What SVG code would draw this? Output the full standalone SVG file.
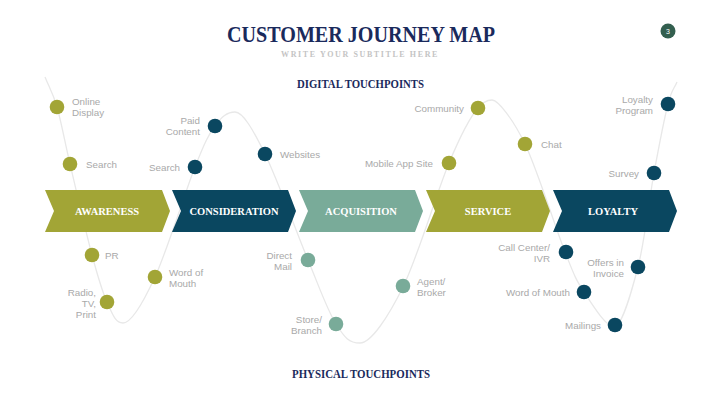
<svg xmlns="http://www.w3.org/2000/svg" width="721" height="405" viewBox="0 0 721 405">
<style>
.title{font-family:"Liberation Serif",serif;font-weight:bold;fill:#1a2a5c}
.sub{font-family:"Liberation Serif",serif;font-weight:bold;fill:#c4c4c4;font-size:8px;letter-spacing:1.6px}
.stage{font-family:"Liberation Serif",serif;font-weight:bold;fill:#ffffff;font-size:10.5px;text-anchor:middle}
.lbl{font-family:"Liberation Sans",Arial,sans-serif;font-size:9.8px;fill:#a9a9a9}
.r{text-anchor:end}
.olive{fill:#a2a536}
.navy{fill:#0a4760}
.sage{fill:#79ab99}
.curve{fill:none;stroke:#e8e8e8;stroke-width:1.3}
</style>
<rect width="721" height="405" fill="#ffffff"/>
<text class="title" x="361" y="42" font-size="23" text-anchor="middle" textLength="268" lengthAdjust="spacingAndGlyphs">CUSTOMER JOURNEY MAP</text>
<text class="sub" x="360" y="57" text-anchor="middle">WRITE YOUR SUBTITLE HERE</text>
<g id="page-number">
<circle cx="668" cy="31" r="7.5" fill="#335f4f"/>
<text x="668" y="33.5" font-family="Liberation Sans,sans-serif" font-size="7" fill="#ffffff" text-anchor="middle">3</text>
</g>
<text class="title" x="360.5" y="88" font-size="12" text-anchor="middle" textLength="127" lengthAdjust="spacingAndGlyphs">DIGITAL TOUCHPOINTS</text>
<text class="title" x="361" y="378" font-size="12" text-anchor="middle" textLength="138" lengthAdjust="spacingAndGlyphs">PHYSICAL TOUCHPOINTS</text>
<g id="connectors">
<path class="curve" d="M45,77 C49,87 52.8,92.5 57,107 C61.2,121.5 64.2,139.3 70,164 C75.8,188.7 85.8,232 92,255 C98.2,278 101.8,290.7 107,302 C112.2,313.3 115,323 123,323 C131,323 143,303 155,277 C167,251 185,192.2 195,167 C205,141.8 208.3,135.2 215,126 C221.7,116.8 227,112 235,112 C243,112 252.8,129.3 265,154 C277.2,178.7 296.2,231.7 308,260 C319.8,288.3 327.3,310.2 336,324 C344.7,337.8 349,343 360,343 C371,343 388.2,317 403,287 C417.8,257 436.5,192.8 449,163 C461.5,133.2 471,116 478,108 C483,103 486,100 492,100 C498,100 512.8,118.8 525,144 C537.2,169.2 555.2,227.3 565,252 C574.8,276.7 575.8,279.5 584,292 C592.2,304.5 606,327 614,327 C622,327 631.3,292.7 638,267 C644.7,241.3 649,200.2 654,173 C659,145.8 664.2,119.2 668,104 C671.8,88.8 674,89.3 677,82"/>
</g>
<g id="stage-awareness">
<path class="olive" d="M45,190 L162,190 L170,211 L162,232 L45,232 L54,211 Z"/>
<text class="stage" x="107" y="215">AWARENESS</text>
</g>
<g id="stage-consideration">
<path class="navy" d="M172,190 L288,190 L296,211 L288,232 L172,232 L181,211 Z"/>
<text class="stage" x="234" y="215">CONSIDERATION</text>
</g>
<g id="stage-acquisition">
<path class="sage" d="M299,190 L415,190 L423,211 L415,232 L299,232 L308,211 Z"/>
<text class="stage" x="361" y="215">ACQUISITION</text>
</g>
<g id="stage-service">
<path class="olive" d="M426,190 L542,190 L550,211 L542,232 L426,232 L435,211 Z"/>
<text class="stage" x="488" y="215">SERVICE</text>
</g>
<g id="stage-loyalty">
<path class="navy" d="M553,190 L669,190 L677,211 L669,232 L553,232 L562,211 Z"/>
<text class="stage" x="613" y="215">LOYALTY</text>
</g>
<g id="tp-online-display"><circle class="olive" cx="57" cy="107" r="7.3"/><text class="lbl" y="105"><tspan x="72">Online</tspan><tspan x="72" dy="11">Display</tspan></text></g>
<g id="tp-search-1"><circle class="olive" cx="70" cy="164" r="7.3"/><text class="lbl" x="86" y="167.5">Search</text></g>
<g id="tp-paid-content"><circle class="navy" cx="215" cy="126" r="7.3"/><text class="lbl r" y="124"><tspan x="200">Paid</tspan><tspan x="200" dy="11">Content</tspan></text></g>
<g id="tp-search-2"><circle class="navy" cx="195" cy="167" r="7.3"/><text class="lbl r" x="180" y="170.5">Search</text></g>
<g id="tp-websites"><circle class="navy" cx="265" cy="154" r="7.3"/><text class="lbl" x="280" y="157.5">Websites</text></g>
<g id="tp-mobile-app-site"><circle class="olive" cx="449" cy="163" r="7.3"/><text class="lbl r" x="433" y="166.5">Mobile App Site</text></g>
<g id="tp-community"><circle class="olive" cx="478" cy="108" r="7.3"/><text class="lbl r" x="464" y="111.5">Community</text></g>
<g id="tp-chat"><circle class="olive" cx="525" cy="144" r="7.3"/><text class="lbl" x="541" y="147.5">Chat</text></g>
<g id="tp-loyalty-program"><circle class="navy" cx="668" cy="104" r="7.3"/><text class="lbl r" y="103"><tspan x="653">Loyalty</tspan><tspan x="653" dy="11">Program</tspan></text></g>
<g id="tp-survey"><circle class="navy" cx="654" cy="173" r="7.3"/><text class="lbl r" x="639" y="176.5">Survey</text></g>
<g id="tp-pr"><circle class="olive" cx="92" cy="255" r="7.3"/><text class="lbl" x="105" y="258.5">PR</text></g>
<g id="tp-radio-tv-print"><circle class="olive" cx="107" cy="302" r="7.3"/><text class="lbl r" y="295.5"><tspan x="96">Radio,</tspan><tspan x="96" dy="11">TV,</tspan><tspan x="96" dy="11">Print</tspan></text></g>
<g id="tp-word-of-mouth-1"><circle class="olive" cx="155" cy="277" r="7.3"/><text class="lbl" y="275.5"><tspan x="169">Word of</tspan><tspan x="169" dy="11">Mouth</tspan></text></g>
<g id="tp-direct-mail"><circle class="sage" cx="308" cy="260" r="7.3"/><text class="lbl r" y="258.5"><tspan x="292">Direct</tspan><tspan x="292" dy="11">Mail</tspan></text></g>
<g id="tp-store-branch"><circle class="sage" cx="336" cy="324" r="7.3"/><text class="lbl r" y="322.5"><tspan x="322">Store/</tspan><tspan x="322" dy="11">Branch</tspan></text></g>
<g id="tp-agent-broker"><circle class="sage" cx="403" cy="286" r="7.3"/><text class="lbl" y="284.5"><tspan x="417">Agent/</tspan><tspan x="417" dy="11">Broker</tspan></text></g>
<g id="tp-call-center"><circle class="navy" cx="566" cy="252" r="7.3"/><text class="lbl r" y="251"><tspan x="550">Call Center/</tspan><tspan x="550" dy="11">IVR</tspan></text></g>
<g id="tp-offers-invoice"><circle class="navy" cx="638" cy="267" r="7.3"/><text class="lbl r" y="265.5"><tspan x="624">Offers in</tspan><tspan x="624" dy="11">Invoice</tspan></text></g>
<g id="tp-word-of-mouth-2"><circle class="navy" cx="584" cy="292" r="7.3"/><text class="lbl r" x="570" y="295.5">Word of Mouth</text></g>
<g id="tp-mailings"><circle class="navy" cx="615" cy="325" r="7.3"/><text class="lbl r" x="601" y="328.5">Mailings</text></g>
</svg>
